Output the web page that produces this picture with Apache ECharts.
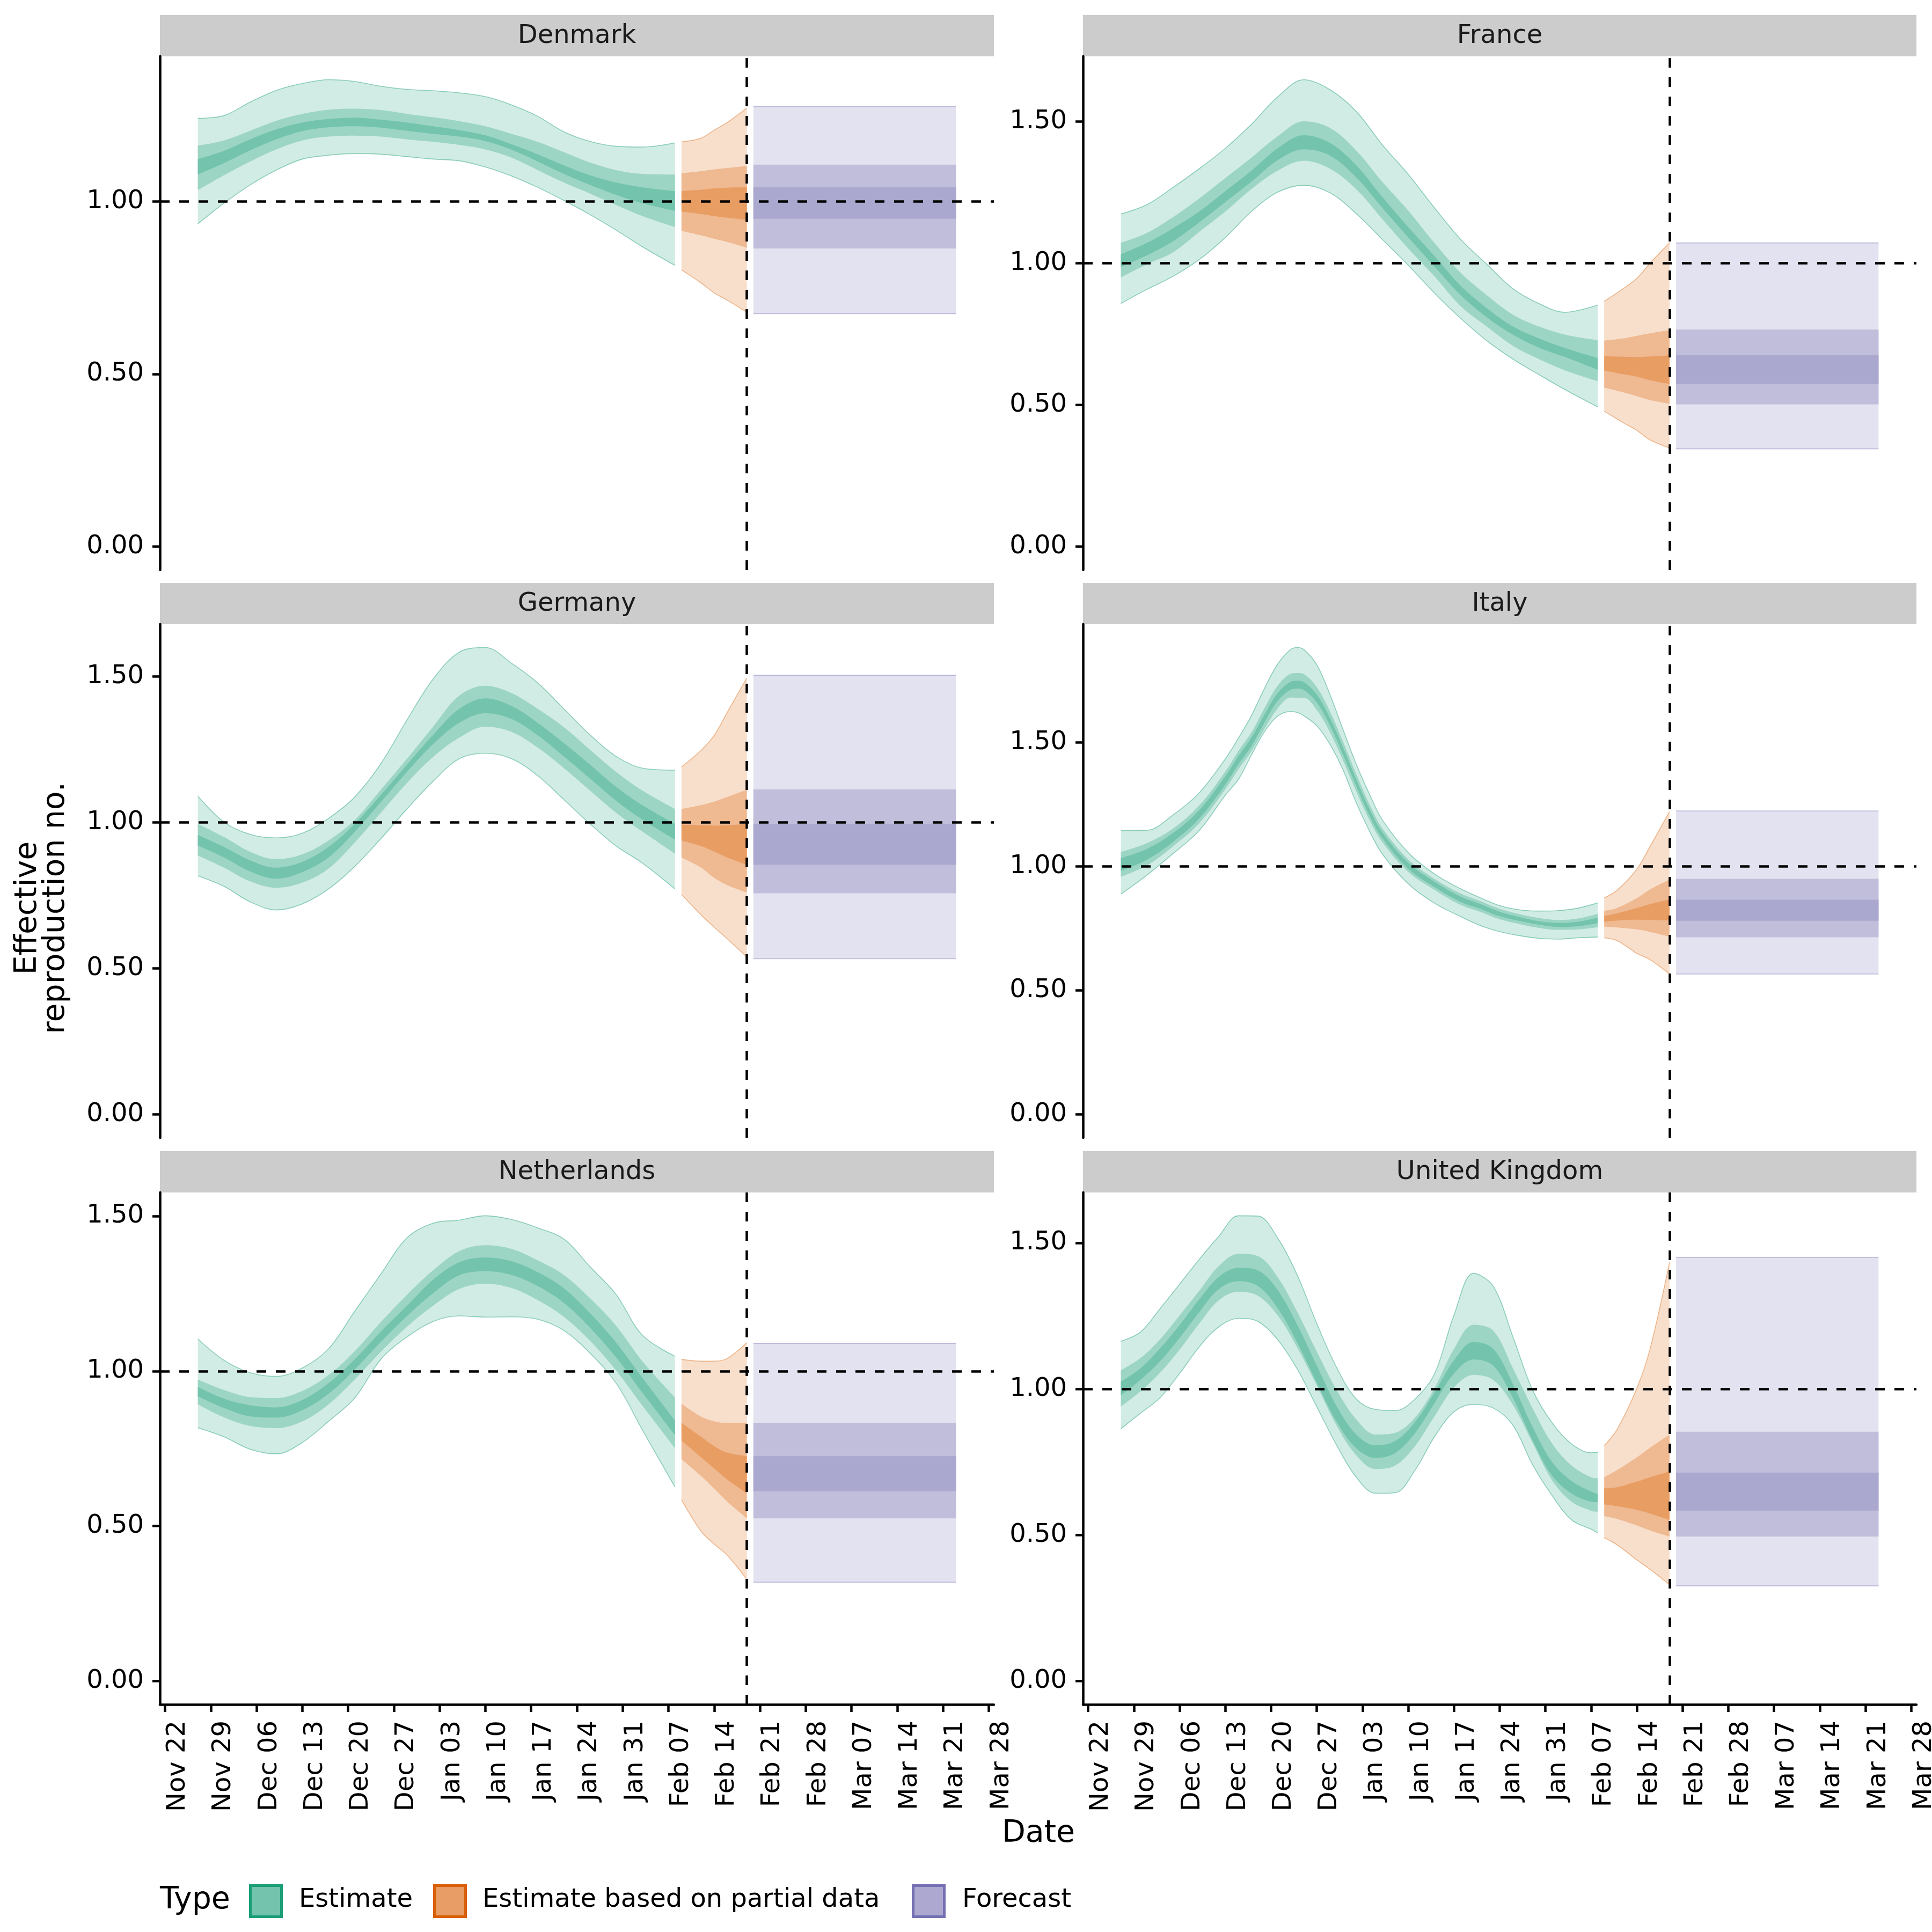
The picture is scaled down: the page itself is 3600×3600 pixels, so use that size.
<!DOCTYPE html>
<html>
<head>
<meta charset="utf-8">
<script src="https://cdn.jsdelivr.net/npm/echarts@6/dist/echarts.min.js"></script>
<style>html,body{margin:0;padding:0;background:#fff}#chart{width:3600px;height:3600px}</style>
</head>
<body>
<div id="chart"></div>
<script>
// ---------------- DATA ----------------
const countries = ['Denmark', 'France', 'Germany', 'Italy', 'Netherlands', 'United Kingdom'];
const xTickDates = ['2020-11-22','2020-11-29','2020-12-06','2020-12-13','2020-12-20','2020-12-27','2021-01-03','2021-01-10','2021-01-17','2021-01-24','2021-01-31','2021-02-07','2021-02-14','2021-02-21','2021-02-28','2021-03-07','2021-03-14','2021-03-21','2021-03-28'];
const yTickValues = [0, 0.5, 1, 1.5];
const cutoffDate = '2021-02-19';
const forecastDates = ['2021-02-20', '2021-03-23'];
const estDatesA = ['2020-11-27','2020-12-01','2020-12-05','2020-12-09','2020-12-13','2020-12-17','2020-12-21','2020-12-25','2020-12-29','2021-01-02','2021-01-06','2021-01-10','2021-01-14','2021-01-18','2021-01-22','2021-01-26','2021-01-30','2021-02-03','2021-02-08'];
const estDatesItaly = ['2020-11-27','2020-12-01','2020-12-05','2020-12-09','2020-12-13','2020-12-15','2020-12-17','2020-12-19','2020-12-21','2020-12-23','2020-12-24','2020-12-25','2020-12-27','2020-12-29','2020-12-31','2021-01-02','2021-01-04','2021-01-06','2021-01-10','2021-01-14','2021-01-18','2021-01-21','2021-01-24','2021-01-27','2021-01-30','2021-02-02','2021-02-05','2021-02-08'];
const estDatesUK = ['2020-11-27','2020-11-30','2020-12-03','2020-12-06','2020-12-09','2020-12-12','2020-12-15','2020-12-18','2020-12-21','2020-12-24','2020-12-27','2020-12-30','2021-01-02','2021-01-05','2021-01-08','2021-01-11','2021-01-14','2021-01-17','2021-01-20','2021-01-23','2021-01-26','2021-01-29','2021-02-01','2021-02-04','2021-02-07','2021-02-08'];
const partialDatesA = ['2021-02-09','2021-02-12','2021-02-14','2021-02-16','2021-02-19'];
const partialDatesB = ['2021-02-09','2021-02-11','2021-02-14','2021-02-16','2021-02-19'];

// each estimate / partial array: [lo90, lo50, lo20, hi20, hi50, hi90] columns
const denmarkEstimate = [
  [0.935,0.995,1.048,1.091,1.123,1.134,1.139,1.137,1.130,1.123,1.118,1.100,1.074,1.041,1.003,0.962,0.917,0.869,0.815],
  [1.033,1.076,1.116,1.151,1.177,1.188,1.191,1.188,1.180,1.173,1.164,1.151,1.127,1.091,1.055,1.023,0.990,0.958,0.926],
  [1.078,1.111,1.148,1.180,1.204,1.215,1.218,1.214,1.205,1.196,1.188,1.175,1.150,1.116,1.080,1.048,1.019,0.995,0.973],
  [1.123,1.147,1.180,1.209,1.229,1.239,1.243,1.237,1.229,1.218,1.207,1.192,1.166,1.137,1.105,1.076,1.055,1.041,1.030],
  [1.162,1.177,1.205,1.234,1.254,1.266,1.269,1.265,1.254,1.244,1.233,1.218,1.196,1.173,1.143,1.113,1.091,1.080,1.078],
  [1.241,1.249,1.288,1.322,1.342,1.353,1.348,1.334,1.325,1.321,1.315,1.304,1.280,1.247,1.202,1.174,1.160,1.158,1.170]
];
const denmarkPartial = [
  [0.802,0.764,0.735,0.714,0.679],
  [0.915,0.902,0.892,0.883,0.866],
  [0.971,0.964,0.958,0.953,0.947],
  [1.030,1.034,1.038,1.040,1.041],
  [1.082,1.088,1.093,1.097,1.103],
  [1.173,1.184,1.207,1.229,1.271]
];
const denmarkForecast = [0.675, 0.864, 0.950, 1.041, 1.107, 1.275];

const franceEstimate = [
  [0.858,0.908,0.954,1.013,1.091,1.183,1.251,1.275,1.249,1.176,1.085,0.993,0.895,0.806,0.727,0.662,0.607,0.554,0.493],
  [0.950,0.997,1.039,1.111,1.183,1.262,1.327,1.362,1.334,1.262,1.157,1.052,0.954,0.849,0.777,0.709,0.662,0.622,0.584],
  [0.987,1.028,1.078,1.144,1.216,1.288,1.364,1.402,1.380,1.304,1.196,1.091,0.989,0.888,0.810,0.748,0.702,0.669,0.624],
  [1.032,1.072,1.124,1.183,1.255,1.327,1.406,1.452,1.425,1.347,1.235,1.128,1.026,0.921,0.842,0.777,0.735,0.701,0.666],
  [1.072,1.107,1.163,1.229,1.301,1.373,1.448,1.501,1.478,1.399,1.288,1.186,1.072,0.967,0.888,0.819,0.777,0.748,0.728],
  [1.174,1.207,1.268,1.334,1.406,1.491,1.587,1.648,1.613,1.537,1.419,1.314,1.196,1.085,0.997,0.911,0.858,0.827,0.853]
];
const francePartial = [
  [0.478,0.436,0.410,0.377,0.348],
  [0.561,0.544,0.531,0.517,0.504],
  [0.622,0.608,0.600,0.587,0.574],
  [0.672,0.670,0.669,0.671,0.675],
  [0.727,0.735,0.744,0.753,0.764],
  [0.866,0.912,0.947,1.000,1.072]
];
const franceForecast = [0.345, 0.502, 0.574, 0.676, 0.766, 1.072];

const germanyEstimate = [
  [0.817,0.781,0.728,0.700,0.721,0.772,0.849,0.944,1.046,1.141,1.218,1.237,1.218,1.160,1.078,0.995,0.919,0.861,0.772],
  [0.887,0.845,0.798,0.776,0.794,0.842,0.931,1.033,1.135,1.224,1.290,1.328,1.310,1.256,1.186,1.109,1.033,0.969,0.893],
  [0.921,0.880,0.832,0.807,0.830,0.880,0.967,1.069,1.173,1.268,1.341,1.374,1.354,1.298,1.226,1.150,1.074,1.010,0.941],
  [0.957,0.916,0.870,0.845,0.865,0.916,0.995,1.094,1.198,1.300,1.389,1.425,1.399,1.341,1.272,1.198,1.122,1.059,0.995],
  [0.995,0.950,0.899,0.874,0.891,0.938,1.008,1.112,1.218,1.328,1.434,1.468,1.443,1.389,1.326,1.249,1.173,1.109,1.046],
  [1.090,1.001,0.959,0.947,0.963,1.014,1.087,1.201,1.351,1.491,1.583,1.599,1.545,1.478,1.389,1.300,1.226,1.186,1.179]
];
const germanyPartial = [
  [0.753,0.683,0.641,0.601,0.539],
  [0.880,0.845,0.810,0.785,0.760],
  [0.938,0.919,0.900,0.880,0.855],
  [0.992,0.990,0.989,0.990,0.995],
  [1.046,1.059,1.071,1.087,1.112],
  [1.190,1.247,1.298,1.377,1.495]
];
const germanyForecast = [0.533, 0.757, 0.855, 0.995, 1.113, 1.504];

const italyEstimate = [
  [0.888,0.965,1.052,1.145,1.288,1.351,1.450,1.544,1.606,1.625,1.621,1.608,1.567,1.493,1.390,1.259,1.146,1.051,0.930,0.852,0.798,0.762,0.737,0.721,0.710,0.707,0.712,0.715],
  [0.958,1.004,1.081,1.174,1.311,1.392,1.465,1.555,1.637,1.681,1.680,1.680,1.631,1.542,1.428,1.305,1.190,1.099,0.978,0.906,0.845,0.817,0.787,0.768,0.752,0.744,0.746,0.755],
  [0.982,1.027,1.099,1.193,1.330,1.412,1.486,1.581,1.667,1.713,1.717,1.712,1.661,1.569,1.451,1.326,1.209,1.115,0.991,0.917,0.857,0.829,0.799,0.780,0.765,0.756,0.759,0.771],
  [1.034,1.071,1.135,1.227,1.364,1.446,1.520,1.613,1.699,1.745,1.749,1.744,1.693,1.599,1.481,1.354,1.235,1.139,1.015,0.939,0.879,0.849,0.817,0.796,0.779,0.772,0.777,0.793],
  [1.058,1.094,1.153,1.246,1.383,1.466,1.541,1.639,1.729,1.777,1.780,1.776,1.723,1.626,1.504,1.375,1.254,1.155,1.028,0.950,0.891,0.861,0.829,0.808,0.792,0.784,0.790,0.809],
  [1.145,1.146,1.208,1.297,1.434,1.518,1.609,1.719,1.816,1.875,1.883,1.875,1.813,1.694,1.553,1.415,1.295,1.189,1.056,0.970,0.910,0.874,0.842,0.825,0.820,0.822,0.832,0.853]
];
const italyPartial = [
  [0.712,0.700,0.649,0.624,0.566],
  [0.757,0.754,0.746,0.736,0.717],
  [0.777,0.782,0.785,0.784,0.782],
  [0.800,0.811,0.832,0.848,0.867],
  [0.821,0.833,0.872,0.907,0.947],
  [0.873,0.905,0.989,1.080,1.221]
];
const italyForecast = [0.566, 0.714, 0.781, 0.866, 0.950, 1.224];

const netherlandsEstimate = [
  [0.817,0.788,0.748,0.733,0.770,0.838,0.913,1.038,1.110,1.160,1.178,1.174,1.175,1.167,1.131,1.058,0.961,0.811,0.626],
  [0.893,0.851,0.823,0.816,0.838,0.893,0.973,1.062,1.143,1.211,1.265,1.282,1.268,1.229,1.175,1.098,1.002,0.889,0.752],
  [0.919,0.881,0.854,0.850,0.874,0.927,1.005,1.094,1.177,1.251,1.309,1.322,1.310,1.274,1.220,1.140,1.044,0.931,0.794],
  [0.949,0.911,0.890,0.883,0.907,0.961,1.038,1.128,1.211,1.295,1.351,1.366,1.354,1.319,1.267,1.187,1.092,0.979,0.841],
  [0.973,0.939,0.916,0.913,0.936,0.987,1.064,1.158,1.246,1.325,1.387,1.406,1.394,1.357,1.310,1.235,1.146,1.032,0.915],
  [1.104,1.035,0.995,0.983,1.010,1.072,1.193,1.313,1.430,1.477,1.487,1.501,1.489,1.462,1.426,1.337,1.247,1.116,1.048]
];
const netherlandsPartial = [
  [0.585,0.483,0.442,0.406,0.328],
  [0.716,0.662,0.621,0.579,0.525],
  [0.776,0.722,0.686,0.650,0.606],
  [0.833,0.788,0.758,0.737,0.726],
  [0.895,0.853,0.838,0.833,0.833],
  [1.038,1.032,1.032,1.041,1.092]
];
const netherlandsForecast = [0.319, 0.525, 0.612, 0.726, 0.832, 1.089];

const ukEstimate = [
  [0.864,0.917,0.970,1.053,1.144,1.213,1.242,1.231,1.169,1.068,0.939,0.809,0.699,0.643,0.645,0.721,0.836,0.922,0.947,0.935,0.877,0.742,0.636,0.552,0.520,0.507],
  [0.940,0.992,1.056,1.135,1.224,1.304,1.333,1.319,1.252,1.142,1.012,0.876,0.774,0.726,0.738,0.804,0.906,1.005,1.048,1.031,0.946,0.817,0.688,0.614,0.583,0.580],
  [0.978,1.031,1.095,1.175,1.263,1.342,1.369,1.352,1.277,1.159,1.021,0.889,0.798,0.764,0.781,0.848,0.951,1.053,1.101,1.080,0.970,0.825,0.704,0.642,0.614,0.612],
  [1.025,1.071,1.139,1.219,1.307,1.384,1.415,1.406,1.339,1.220,1.080,0.943,0.845,0.807,0.822,0.886,0.987,1.098,1.161,1.138,1.018,0.872,0.751,0.685,0.649,0.641],
  [1.064,1.106,1.170,1.252,1.336,1.421,1.463,1.455,1.383,1.264,1.128,0.998,0.897,0.844,0.850,0.901,1.002,1.137,1.220,1.200,1.072,0.935,0.814,0.738,0.698,0.695],
  [1.163,1.195,1.275,1.359,1.444,1.523,1.593,1.592,1.517,1.390,1.224,1.075,0.967,0.930,0.926,0.965,1.051,1.253,1.396,1.352,1.180,0.998,0.885,0.812,0.782,0.783]
];
const ukPartial = [
  [0.491,0.466,0.415,0.383,0.330],
  [0.565,0.555,0.533,0.516,0.495],
  [0.605,0.599,0.586,0.574,0.552],
  [0.660,0.664,0.683,0.698,0.717],
  [0.698,0.723,0.766,0.799,0.844],
  [0.806,0.863,1.003,1.136,1.434]
];
const ukForecast = [0.326, 0.495, 0.584, 0.714, 0.854, 1.450];

// ---------------- STYLE / LAYOUT ----------------
const FONT = 'DejaVu Sans';
const TYPE_STYLE = {
  estimate: { fills: ['#d1ece4', '#9dd5c4', '#74c4ad'], edge: 'rgba(27,158,119,0.45)', key: '#74c4ad', keyBorder: '#1b9e77' },
  partial:  { fills: ['#f7dfcc', '#efb991', '#e89d63'], edge: 'rgba(217,95,2,0.40)',   key: '#e89c66', keyBorder: '#d95f02' },
  forecast: { fills: ['#e3e2f0', '#c1bedb', '#aba8cf'], edge: 'rgba(117,112,179,0.45)', key: '#aca8d0', keyBorder: '#7570b3' }
};
const COLS = [{ left: 298, width: 1554 }, { left: 2018, width: 1553 }];
const ROWS = [{ top: 105, height: 957 }, { top: 1163, height: 957 }, { top: 2222, height: 954 }];
const STRIP_H = 77;
const DAY = 86400000;
const ts = s => Date.parse(s);
const MONTHS = ['Jan','Feb','Mar','Apr','May','Jun','Jul','Aug','Sep','Oct','Nov','Dec'];
const fmtDate = v => { const d = new Date(v); return MONTHS[d.getUTCMonth()] + ' ' + String(d.getUTCDate()).padStart(2, '0'); };

const panels = [
  { est: denmarkEstimate, estDates: estDatesA, part: denmarkPartial, partDates: partialDatesA, fc: denmarkForecast },
  { est: franceEstimate, estDates: estDatesA, part: francePartial, partDates: partialDatesA, fc: franceForecast },
  { est: germanyEstimate, estDates: estDatesA, part: germanyPartial, partDates: partialDatesA, fc: germanyForecast },
  { est: italyEstimate, estDates: estDatesItaly, part: italyPartial, partDates: partialDatesB, fc: italyForecast },
  { est: netherlandsEstimate, estDates: estDatesA, part: netherlandsPartial, partDates: partialDatesA, fc: netherlandsForecast },
  { est: ukEstimate, estDates: estDatesUK, part: ukPartial, partDates: partialDatesB, fc: ukForecast }
];

const xMin = ts(xTickDates[0]) - 0.8 * DAY;
const xMax = ts(xTickDates[xTickDates.length - 1]) + 0.8 * DAY;
const xTicks = xTickDates.map(ts);

const grids = [], xAxes = [], yAxes = [], series = [], graphics = [];

function addBand(pi, key, dates, lo, hi, bandIdx, style, smooth, extra) {
  const stackKey = 'p' + pi + key + bandIdx;
  const n = Math.min(dates.length, lo.length, hi.length);
  const lower = [], diff = [];
  for (let k = 0; k < n; k++) {
    lower.push([ts(dates[k]), lo[k]]);
    diff.push([ts(dates[k]), +(hi[k] - lo[k]).toFixed(4)]);
  }
  const isOuter = bandIdx === 0;
  const edge = isOuter ? { width: 1.6, color: style.edge } : { width: 0, opacity: 0 };
  const z = 2 + bandIdx;
  const base = {
    type: 'line', xAxisIndex: 2 * pi, yAxisIndex: pi, stack: stackKey, stackStrategy: 'all',
    symbol: 'none', showSymbol: false,
    smooth: smooth, silent: true, z: z, lineStyle: edge, emphasis: { disabled: true }
  };
  series.push(Object.assign({}, base, { name: key + ' lower', data: lower }, extra || {}));
  series.push(Object.assign({}, base, { name: key, data: diff, areaStyle: { color: style.fills[bandIdx], opacity: 1 } }));
}

panels.forEach((p, pi) => {
  const col = pi % 2, row = Math.floor(pi / 2);
  const g = { left: COLS[col].left, top: ROWS[row].top, width: COLS[col].width, height: ROWS[row].height,
    containLabel: false, outerBoundsMode: 'none' };
  grids.push(g);
  const isBottom = row === 2;

  let m = 0;
  [p.est, p.part].forEach(arr => arr.forEach(c => c.forEach(v => { if (v > m) m = v; })));
  p.fc.forEach(v => { if (v > m) m = v; });
  const yMin = -0.05 * m, yMax = 1.05 * m;
  const yt = yTickValues.filter(v => v >= yMin && v <= yMax);

  // hidden time axis carrying the series (so only values get stacked)
  xAxes.push({ type: 'time', gridIndex: pi, min: xMin, max: xMax, show: false,
    axisLine: { show: false }, axisTick: { show: false }, axisLabel: { show: false }, splitLine: { show: false } });
  // visible axis with the weekly date ticks, same extent
  xAxes.push({
    type: 'value', gridIndex: pi, min: xMin, max: xMax, position: 'bottom',
    axisLine: { show: isBottom, onZero: false, lineStyle: { color: '#000', width: 4.5 } },
    axisTick: { show: isBottom, customValues: xTicks, length: 14, lineStyle: { color: '#000', width: 4.5 } },
    axisLabel: { show: isBottom, customValues: xTicks, rotate: 90, formatter: fmtDate, fontSize: 48, fontFamily: FONT, color: '#000', margin: 30, verticalAlign: 'top', hideOverlap: false },
    splitLine: { show: false }
  });
  yAxes.push({
    type: 'value', gridIndex: pi, min: yMin, max: yMax,
    axisLine: { show: true, onZero: false, lineStyle: { color: '#000', width: 4.5 } },
    axisTick: { show: true, customValues: yt, length: 14, lineStyle: { color: '#000', width: 4.5 } },
    axisLabel: { customValues: yt, formatter: v => v.toFixed(2), fontSize: 48, fontFamily: FONT, color: '#000', margin: 30 },
    splitLine: { show: false }
  });

  const refLines = {
    silent: true, symbol: ['none', 'none'], z: 10, label: { show: false },
    lineStyle: { color: '#000', width: 4.5, type: [18, 18], opacity: 1 },
    emphasis: { disabled: true },
    data: [{ yAxis: 1 }, { xAxis: ts(cutoffDate) }]
  };

  for (let b = 0; b < 3; b++) {
    addBand(pi, 'Estimate', p.estDates, p.est[b], p.est[5 - b], b, TYPE_STYLE.estimate, 0.35, b === 2 ? { markLine: refLines } : null);
  }
  for (let b = 0; b < 3; b++) {
    addBand(pi, 'Estimate based on partial data', p.partDates, p.part[b], p.part[5 - b], b, TYPE_STYLE.partial, 0.35);
  }
  for (let b = 0; b < 3; b++) {
    addBand(pi, 'Forecast', forecastDates, [p.fc[b], p.fc[b]], [p.fc[5 - b], p.fc[5 - b]], b, TYPE_STYLE.forecast, false);
  }

  graphics.push({ type: 'rect', silent: true, shape: { x: g.left, y: g.top - STRIP_H, width: g.width, height: STRIP_H }, style: { fill: '#cccccc' } });
  graphics.push({ type: 'text', silent: true, x: g.left + g.width / 2, y: g.top - STRIP_H / 2 + 1,
    style: { text: countries[pi], fontSize: 48, fontFamily: FONT, fill: '#1a1a1a', align: 'center', verticalAlign: 'middle', textAlign: 'center', textVerticalAlign: 'middle' } });
});

graphics.push({ type: 'text', silent: true, x: 78, y: 1692, rotation: Math.PI / 2,
  style: { text: 'Effective\nreproduction no.', fontSize: 57, lineHeight: 52, fontFamily: FONT, fill: '#000', align: 'center', verticalAlign: 'middle', textAlign: 'center', textVerticalAlign: 'middle' } });
graphics.push({ type: 'text', silent: true, x: 1935, y: 3417,
  style: { text: 'Date', fontSize: 57, fontFamily: FONT, fill: '#000', align: 'center', verticalAlign: 'middle', textAlign: 'center', textVerticalAlign: 'middle' } });

const legendItems = [
  { label: 'Estimate', style: TYPE_STYLE.estimate, keyX: 464, textX: 557 },
  { label: 'Estimate based on partial data', style: TYPE_STYLE.partial, keyX: 807, textX: 899 },
  { label: 'Forecast', style: TYPE_STYLE.forecast, keyX: 1699, textX: 1793 }
];
const LEG_Y = 3541;
graphics.push({ type: 'text', silent: true, x: 298, y: LEG_Y,
  style: { text: 'Type', fontSize: 57, fontFamily: FONT, fill: '#000', align: 'left', verticalAlign: 'middle', textAlign: 'left', textVerticalAlign: 'middle' } });
legendItems.forEach(it => {
  graphics.push({ type: 'rect', silent: true, shape: { x: it.keyX + 2.5, y: LEG_Y - 30 + 2.5, width: 58, height: 58 },
    style: { fill: it.style.key, stroke: it.style.keyBorder, lineWidth: 5 } });
  graphics.push({ type: 'text', silent: true, x: it.textX, y: LEG_Y,
    style: { text: it.label, fontSize: 48, fontFamily: FONT, fill: '#000', align: 'left', verticalAlign: 'middle', textAlign: 'left', textVerticalAlign: 'middle' } });
});

const chart = echarts.init(document.getElementById('chart'), null, { renderer: 'canvas', width: 3600, height: 3600 });
chart.setOption({
  animation: false,
  useUTC: true,
  backgroundColor: '#fff',
  textStyle: { fontFamily: FONT },
  grid: grids,
  xAxis: xAxes,
  yAxis: yAxes,
  series: series,
  graphic: graphics
});
</script>
</body>
</html>
